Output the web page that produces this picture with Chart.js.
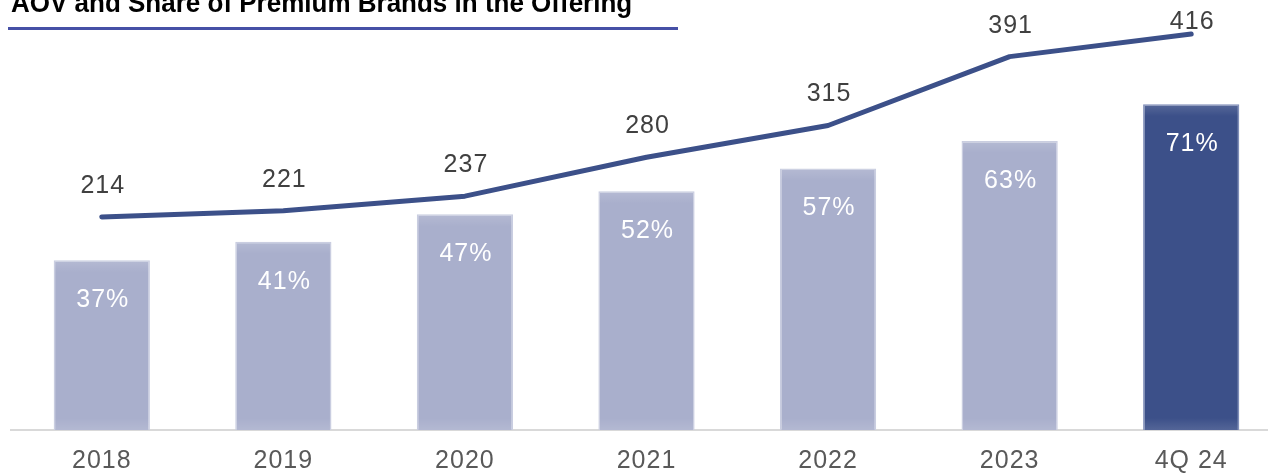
<!DOCTYPE html>
<html>
<head>
<meta charset="utf-8">
<script src="https://cdn.jsdelivr.net/npm/chart.js@4.4.1/dist/chart.umd.min.js"></script>
<style>
  html, body { margin: 0; padding: 0; background: #fff; overflow: hidden; }
  #wrap { position: relative; width: 1268px; height: 474px; overflow: hidden; }
  #title {
    position: absolute; left: 11px; top: -11px;
    font: bold 26px "Liberation Sans", Arial, sans-serif; color: #000;
    white-space: nowrap; transform: scaleY(1.08); transform-origin: left bottom;
  }
  #rule { position: absolute; left: 8px; top: 27px; width: 670px; height: 3px; background: #4650a6; }
  canvas { position: absolute; left: 0; top: 0; }
</style>
</head>
<body>
<div id="wrap">
  <canvas id="chart" width="1282" height="474"></canvas>
  <div id="title">AOV and Share of Premium Brands in the Offering</div>
  <div id="rule"></div>
</div>
<script>
const labels = ['2018', '2019', '2020', '2021', '2022', '2023', '4Q 24'];
const premiumShare = [37, 41, 47, 52, 57, 63, 71];
const aov = [214, 221, 237, 280, 315, 391, 416];

const NAVY = '#3c5089';
const LIGHT = '#a9afcc';
const FONT = '"Liberation Sans", Arial, sans-serif';

// slightly wider digit spacing for every text drawn on the canvas
const spacing = {
  id: 'spacing',
  beforeDraw(chart) { chart.ctx.letterSpacing = '1px'; }
};

// soft bevel on each bar: lighter bands at the top and bottom edges
const bevel = {
  id: 'bevel',
  afterDatasetDraw(chart, args) {
    if (args.index !== 0) return;
    const ctx = chart.ctx;
    ctx.save();
    args.meta.data.forEach((bar) => {
      const { x, y, base, width } = bar.getProps(['x', 'y', 'base', 'width'], true);
      const l = x - width / 2;
      let g = ctx.createLinearGradient(0, y, 0, y + 12);
      g.addColorStop(0, 'rgba(255,255,255,0.14)');
      g.addColorStop(1, 'rgba(255,255,255,0)');
      ctx.fillStyle = g;
      ctx.fillRect(l + 1, y + 1, width - 2, 12);
      g = ctx.createLinearGradient(0, base - 12, 0, base);
      g.addColorStop(0, 'rgba(255,255,255,0)');
      g.addColorStop(1, 'rgba(255,255,255,0.12)');
      ctx.fillStyle = g;
      ctx.fillRect(l + 1, base - 12, width - 2, 12);
    });
    ctx.restore();
  }
};

// value labels: white % inside bars, dark AOV above the line
const valueLabels = {
  id: 'valueLabels',
  afterDatasetsDraw(chart) {
    const ctx = chart.ctx;
    ctx.save();
    ctx.letterSpacing = '1px';
    ctx.textAlign = 'center';
    ctx.textBaseline = 'middle';
    ctx.font = '25px ' + FONT;
    ctx.fillStyle = '#ffffff';
    chart.getDatasetMeta(0).data.forEach((bar, i) => {
      ctx.fillText(premiumShare[i] + '%', bar.x + 1, bar.y + 40);
    });
    ctx.fillStyle = '#404040';
    chart.getDatasetMeta(1).data.forEach((pt, i) => {
      ctx.fillText(String(aov[i]), pt.x + 1, Math.max(22, pt.y - 31));
    });
    ctx.restore();
  }
};

new Chart(document.getElementById('chart'), {
  data: {
    labels,
    datasets: [
      {
        type: 'bar', label: 'Share of premium brands', data: premiumShare, yAxisID: 'y', order: 2,
        backgroundColor: premiumShare.map((v, i) => i === premiumShare.length - 1 ? NAVY : LIGHT),
        borderColor: premiumShare.map((v, i) => i === premiumShare.length - 1 ? '#7f8db8' : '#c9cde0'),
        borderWidth: 1.5, borderSkipped: 'bottom',
        categoryPercentage: 1, barPercentage: 0.53,
      },
      {
        type: 'line', label: 'AOV', data: aov, yAxisID: 'y1', order: 1,
        borderColor: NAVY, borderWidth: 5, pointRadius: 0, tension: 0,
        borderCapStyle: 'round', borderJoinStyle: 'round',
      },
    ],
  },
  options: {
    responsive: false, animation: false,
    layout: { padding: { left: 11, right: 0, top: 0, bottom: 0 } },
    plugins: { legend: { display: false }, tooltip: { enabled: false } },
    scales: {
      x: {
        offset: true,
        grid: { display: true, drawOnChartArea: false, drawTicks: false, color: 'transparent' },
        border: { display: true, color: '#d9d9d9', width: 2 },
        ticks: { color: '#595959', font: { family: FONT, size: 25 }, padding: 16, maxRotation: 0, autoSkip: false },
        afterFit(scale) { scale.height = 44; },
      },
      y: { display: false, min: 0, max: 93.7 },
      y1: { display: false, min: -21.1, max: 453.5 },
    },
  },
  plugins: [spacing, bevel, valueLabels],
});
</script>
</body>
</html>
